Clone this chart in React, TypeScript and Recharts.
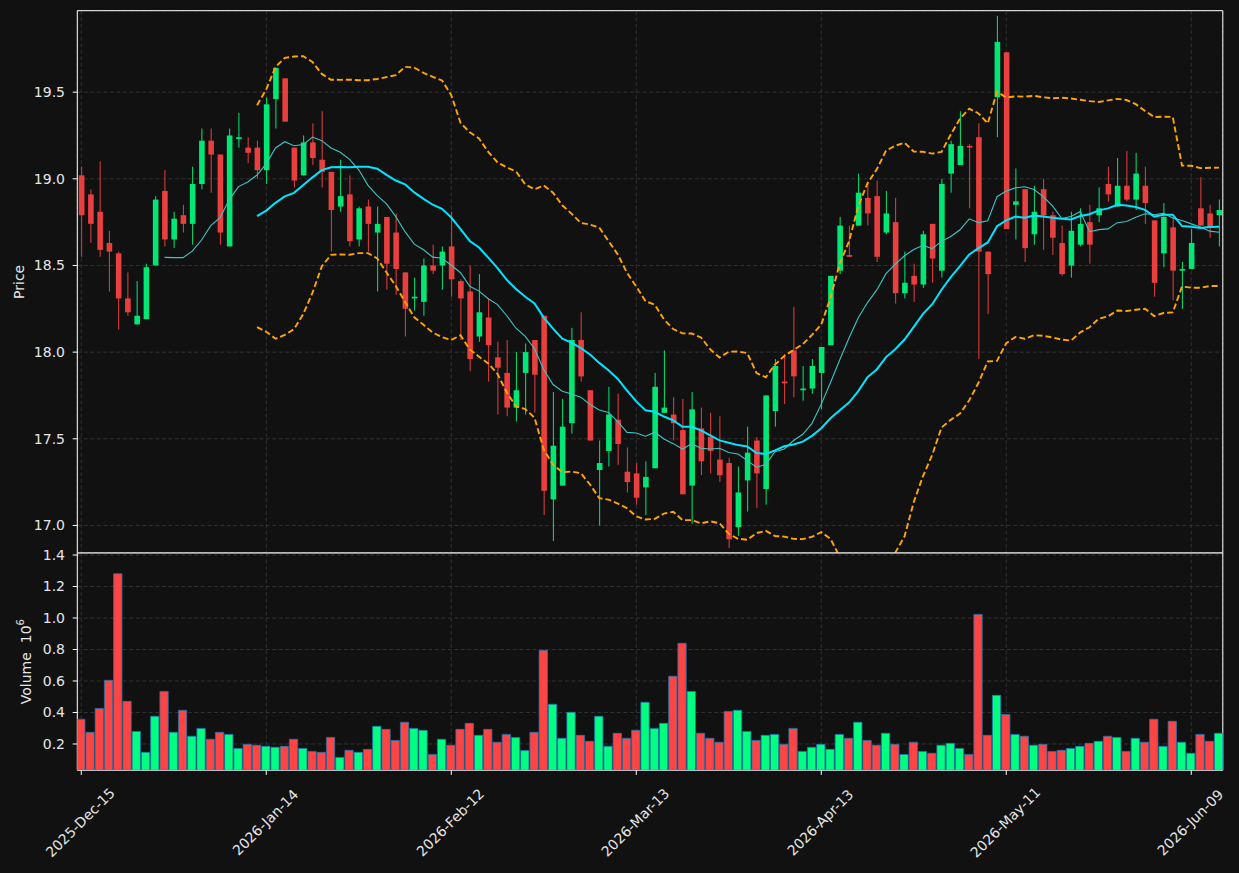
import React from 'react';
import { ComposedChart, Bar, Line, XAxis, YAxis, CartesianGrid, ReferenceArea, Cell } from 'recharts';

const dates = [
  '2025-12-15','2025-12-16','2025-12-17','2025-12-18','2025-12-19','2025-12-22','2025-12-23','2025-12-24','2025-12-26','2025-12-29','2025-12-30','2025-12-31',
  '2026-01-02','2026-01-05','2026-01-06','2026-01-07','2026-01-08','2026-01-09','2026-01-12','2026-01-13','2026-01-14','2026-01-15','2026-01-16','2026-01-20','2026-01-21','2026-01-22','2026-01-23','2026-01-26','2026-01-27','2026-01-28','2026-01-29','2026-01-30',
  '2026-02-02','2026-02-03','2026-02-04','2026-02-05','2026-02-06','2026-02-09','2026-02-10','2026-02-11','2026-02-12','2026-02-13','2026-02-17','2026-02-18','2026-02-19','2026-02-20','2026-02-23','2026-02-24','2026-02-25','2026-02-26','2026-02-27',
  '2026-03-02','2026-03-03','2026-03-04','2026-03-05','2026-03-06','2026-03-09','2026-03-10','2026-03-11','2026-03-12','2026-03-13','2026-03-16','2026-03-17','2026-03-18','2026-03-19','2026-03-20','2026-03-23','2026-03-24','2026-03-25','2026-03-26','2026-03-27','2026-03-30','2026-03-31',
  '2026-04-01','2026-04-02','2026-04-06','2026-04-07','2026-04-08','2026-04-09','2026-04-10','2026-04-13','2026-04-14','2026-04-15','2026-04-16','2026-04-17','2026-04-20','2026-04-21','2026-04-22','2026-04-23','2026-04-24','2026-04-27','2026-04-28','2026-04-29','2026-04-30',
  '2026-05-01','2026-05-04','2026-05-05','2026-05-06','2026-05-07','2026-05-08','2026-05-11','2026-05-12','2026-05-13','2026-05-14','2026-05-15','2026-05-18','2026-05-19','2026-05-20','2026-05-21','2026-05-22','2026-05-26','2026-05-27','2026-05-28','2026-05-29',
  '2026-06-01','2026-06-02','2026-06-03','2026-06-04','2026-06-05','2026-06-08','2026-06-09','2026-06-10','2026-06-11','2026-06-12',
];

const opens = [
  19.02,18.91,18.81,18.63,18.57,18.31,18.16,18.19,18.50,18.93,18.65,18.79,18.74,18.97,19.22,19.14,18.61,19.23,19.18,19.18,
  19.05,19.46,19.58,19.18,19.02,19.21,19.11,19.04,18.84,18.91,18.65,18.84,18.69,18.78,18.69,18.46,18.31,18.29,18.50,18.50,
  18.61,18.41,18.35,18.09,18.20,17.97,17.88,17.68,17.88,18.07,18.21,17.15,17.23,17.59,18.07,17.78,17.32,17.43,17.61,17.31,
  17.30,17.22,17.33,17.65,17.64,17.55,17.23,17.56,17.51,17.38,17.36,16.99,17.26,17.49,17.21,17.66,17.83,18.01,17.78,17.79,
  17.88,18.04,18.47,18.56,18.73,18.89,18.90,18.69,18.75,18.34,18.44,18.39,18.74,18.47,19.03,19.08,19.19,19.24,18.58,19.47,
  19.73,18.85,18.94,18.68,18.94,18.79,18.63,18.50,18.62,18.75,18.79,18.97,18.84,18.96,18.88,18.96,18.76,18.57,18.72,18.47,
  18.48,18.83,18.80,18.79,
];
const highs = [
  19.07,18.94,19.10,18.70,18.58,18.46,18.41,18.51,18.90,19.05,18.81,18.85,19.07,19.29,19.29,19.14,19.29,19.38,19.24,19.22,
  19.47,19.64,19.58,19.18,19.25,19.32,19.39,19.04,19.11,19.02,18.84,18.88,18.84,18.78,18.80,18.46,18.43,18.54,18.62,18.61,
  18.81,18.42,18.50,18.45,18.31,18.06,18.07,18.00,18.05,18.07,18.21,17.77,17.73,18.14,18.23,17.78,17.49,17.80,17.76,17.45,
  17.36,17.37,17.88,18.01,17.74,17.73,17.77,17.68,17.65,17.63,17.39,17.34,17.57,17.51,17.75,17.96,17.99,18.26,17.92,17.96,
  18.03,18.44,18.78,18.73,19.03,18.98,18.99,18.93,18.89,18.58,18.51,18.70,18.74,19.00,19.22,19.39,19.20,19.32,18.58,19.94,
  19.73,19.06,18.94,18.96,19.00,18.81,18.73,18.81,18.83,18.85,18.95,19.07,19.12,19.16,19.15,19.07,18.76,18.86,18.78,18.52,
  18.71,19.01,18.85,18.88,
];
const lows = [
  18.55,18.63,18.55,18.35,18.13,18.21,18.16,18.19,18.50,18.61,18.60,18.69,18.62,18.94,18.92,18.62,18.61,19.18,19.09,19.00,
  18.97,19.29,19.33,18.95,19.02,19.08,18.95,18.58,18.81,18.61,18.61,18.58,18.35,18.36,18.33,18.09,18.24,18.21,18.45,18.36,
  18.32,18.07,17.89,18.06,17.83,17.64,17.63,17.60,17.64,17.65,17.06,16.91,17.23,17.53,17.83,17.49,17.00,17.34,17.35,17.19,
  17.12,17.06,17.33,17.65,17.49,17.18,17.01,17.29,17.30,17.25,16.87,16.94,17.08,17.10,17.12,17.57,17.70,17.74,17.72,17.76,
  17.67,18.04,18.45,18.55,18.73,18.73,18.52,18.68,18.28,18.31,18.29,18.37,18.40,18.43,18.92,19.08,18.83,17.96,18.22,19.24,
  18.71,18.65,18.52,18.62,18.59,18.56,18.44,18.43,18.61,18.51,18.75,18.87,18.84,18.87,18.82,18.74,18.32,18.49,18.30,18.25,
  18.48,18.73,18.66,18.61,
];
const closes = [
  18.79,18.74,18.59,18.58,18.31,18.23,18.21,18.49,18.88,18.65,18.77,18.74,18.97,19.22,19.14,18.69,19.25,19.24,19.15,19.05,
  19.43,19.64,19.33,18.99,19.21,19.12,19.04,18.82,18.90,18.64,18.83,18.74,18.74,18.51,18.48,18.25,18.32,18.50,18.47,18.58,
  18.42,18.31,17.96,18.23,18.04,17.91,17.68,17.78,18.00,17.87,17.20,17.46,17.57,18.07,17.86,17.49,17.36,17.64,17.47,17.25,
  17.16,17.28,17.80,17.68,17.59,17.18,17.67,17.37,17.43,17.29,16.92,17.19,17.42,17.30,17.75,17.92,17.82,17.86,17.79,17.92,
  18.03,18.44,18.73,18.55,18.92,18.80,18.55,18.80,18.34,18.40,18.39,18.68,18.54,18.97,19.20,19.19,19.18,18.58,18.45,19.79,
  18.71,18.87,18.60,18.81,18.79,18.66,18.45,18.70,18.74,18.62,18.83,18.91,18.96,18.88,19.03,18.86,18.40,18.78,18.47,18.48,
  18.63,18.73,18.72,18.82,
];
const volumes = [
  0.357,0.274,0.426,0.604,1.281,0.471,0.280,0.147,0.376,0.534,0.274,0.414,0.249,0.299,0.230,0.274,0.261,0.172,0.198,0.192,
  0.185,0.179,0.185,0.230,0.172,0.153,0.147,0.242,0.115,0.160,0.147,0.166,0.312,0.293,0.223,0.338,0.299,0.287,0.134,0.230,
  0.192,0.293,0.331,0.255,0.293,0.211,0.261,0.242,0.158,0.274,0.795,0.452,0.236,0.401,0.255,0.217,0.376,0.185,0.268,0.236,
  0.287,0.465,0.299,0.331,0.630,0.839,0.534,0.268,0.236,0.211,0.407,0.414,0.280,0.223,0.255,0.261,0.198,0.299,0.153,0.179,
  0.198,0.166,0.261,0.236,0.338,0.223,0.192,0.268,0.198,0.134,0.211,0.153,0.141,0.192,0.204,0.172,0.134,1.023,0.255,0.509,
  0.388,0.261,0.249,0.192,0.198,0.153,0.160,0.172,0.185,0.204,0.217,0.249,0.242,0.153,0.236,0.211,0.357,0.185,0.344,0.211,
  0.141,0.261,0.217,0.268,
];

const tickDates = ['2025-12-15','2026-01-14','2026-02-12','2026-03-13','2026-04-13','2026-05-11','2026-06-09'];
const priceTicks = [17.0, 17.5, 18.0, 18.5, 19.0, 19.5];
const volumeTicks = [0.2, 0.4, 0.6, 0.8, 1.0, 1.2, 1.4];
const MONTHS = ['Jan','Feb','Mar','Apr','May','Jun','Jul','Aug','Sep','Oct','Nov','Dec'];

const CANDLE_UP = '#00e775';
const CANDLE_DOWN = '#e83f3f';
const VOL_UP = '#00ff80';
const VOL_DOWN = '#ff4444';
const BG = '#111111';
const TEXT = '#e6e6e6';
const GRID = '#3a3a3a';
const FONT = 'DejaVu Sans';
const FS = 14;

const X_DOMAIN: [number, number] = [-0.43, 123.41];
const P_DOMAIN: [number, number] = [16.841, 19.97];
const V_DOMAIN: [number, number] = [0.033, 1.4127];

const mean = (a: number[]) => a.reduce((s, v) => s + v, 0) / a.length;

const rows = dates.map((d, i) => {
  const row: any = {
    i, date: d, open: opens[i], high: highs[i], low: lows[i], close: closes[i],
    volume: volumes[i], up: closes[i] >= opens[i],
  };
  if (i >= 9) row.ma10 = mean(closes.slice(i - 9, i + 1));
  if (i >= 19) {
    const w = closes.slice(i - 19, i + 1);
    const m = mean(w);
    const sd = Math.sqrt(mean(w.map((v) => (v - m) * (v - m))));
    row.ma20 = m;
    row.bbUp = m + 2 * sd;
    row.bbLo = m - 2 * sd;
  }
  return row;
});

const tickIdx = tickDates.map((t) => dates.indexOf(t));
const fmtDate = (iso: string) => {
  const [y, m, d] = iso.split('-');
  return `${y}-${MONTHS[Number(m) - 1]}-${d}`;
};

const Candle = (props: any) => {
  const { x, y, width, height, payload } = props;
  if (payload == null) return null;
  const { open, close, high, low } = payload;
  const color = close >= open ? CANDLE_UP : CANDLE_DOWN;
  const top = Math.min(y, y + height);
  const h = Math.abs(height);
  const ppu = h / (high - low || 1);
  const cx = x + width / 2;
  const bt = top + (high - Math.max(open, close)) * ppu;
  const bb = top + (high - Math.min(open, close)) * ppu;
  const bw = 5.6;
  return (
    <g>
      <line x1={cx} x2={cx} y1={top} y2={top + h} stroke={color} strokeWidth={1} />
      <rect x={cx - bw / 2} y={bt} width={bw} height={Math.max(bb - bt, 1)} fill={color} />
    </g>
  );
};

const XTick = (props: any) => {
  const { x, y, payload } = props;
  const label = fmtDate(dates[payload.value]);
  return (
    <g transform={`translate(${x - 1},${y + 45.5}) rotate(-45)`}>
      <text textAnchor="middle" dominantBaseline="central" fill={TEXT} fontSize={FS} fontFamily={FONT}>
        {label}
      </text>
    </g>
  );
};

const YTick = (props: any) => {
  const { x, y, payload } = props;
  return (
    <text x={x} y={y} textAnchor="end" dominantBaseline="central" fill={TEXT} fontSize={FS} fontFamily={FONT}>
      {Number(payload.value).toFixed(1)}
    </text>
  );
};

const PriceLabel = (props: any) => {
  const vb = props.viewBox || { x: 0, y: 0, height: 0 };
  const cx = 19;
  const cy = vb.y + vb.height / 2;
  return (
    <text x={cx} y={cy} transform={`rotate(-90, ${cx}, ${cy})`} textAnchor="middle" dominantBaseline="central" fill={TEXT} fontSize={FS} fontFamily={FONT}>
      Price
    </text>
  );
};

const VolumeLabel = (props: any) => {
  const vb = props.viewBox || { x: 0, y: 0, height: 0 };
  const cx = 26;
  const cy = vb.y + vb.height / 2;
  return (
    <text x={cx} y={cy} transform={`rotate(-90, ${cx}, ${cy})`} textAnchor="middle" dominantBaseline="central" fill={TEXT} fontSize={FS} fontFamily={FONT}>
      <tspan>{'Volume\u00a0\u00a010'}</tspan>
      <tspan dy={-6} fontSize={10}>6</tspan>
    </text>
  );
};

const VTOP = 30;

export default function App() {
  return (
    <div style={{ position: 'absolute', left: 0, top: 0, width: 1239, height: 873, background: BG, overflow: 'hidden' }}>
      <div style={{ position: 'absolute', left: 0, top: 0 }}>
        <ComposedChart width={1239} height={553} data={rows} margin={{ top: 10.7, right: 16.2, bottom: 0, left: 17.3 }}>
          <CartesianGrid stroke={GRID} strokeDasharray="4 2.5" strokeWidth={0.8} />
          <XAxis type="number" dataKey="i" domain={X_DOMAIN} ticks={tickIdx} interval={0} allowDataOverflow hide />
          <YAxis
            type="number"
            domain={P_DOMAIN}
            allowDataOverflow
            ticks={priceTicks}
            interval={0}
            tick={<YTick />}
            tickSize={4.6}
            tickMargin={7.7}
            tickLine={{ stroke: '#ffffff' }}
            axisLine={false}
            width={60}
            label={<PriceLabel />}
          />
          <Bar dataKey={(d: any) => [d.low, d.high]} shape={(p: any) => <Candle {...p} />} barSize={6} isAnimationActive={false} />
          <Line dataKey="bbUp" stroke="#ffa500" strokeWidth={1.9} strokeDasharray="6 3" dot={false} isAnimationActive={false} type="linear" />
          <Line dataKey="bbLo" stroke="#ffa500" strokeWidth={1.9} strokeDasharray="6 3" dot={false} isAnimationActive={false} type="linear" />
          <Line dataKey="ma10" stroke="#40c4c4" strokeWidth={1.1} dot={false} isAnimationActive={false} type="linear" />
          <Line dataKey="ma20" stroke="#00e5ff" strokeWidth={2} dot={false} isAnimationActive={false} type="linear" />
          <ReferenceArea x1={X_DOMAIN[0]} x2={X_DOMAIN[1]} y1={P_DOMAIN[0]} y2={P_DOMAIN[1]} fill="none" stroke="#ffffff" strokeWidth={1} ifOverflow="visible" />
        </ComposedChart>
      </div>
      <div style={{ position: 'absolute', left: 0, top: 553 - VTOP }}>
        <ComposedChart width={1239} height={320 + VTOP} data={rows} margin={{ top: VTOP, right: 16.2, bottom: 42.7, left: 17.3 }}>
          <CartesianGrid stroke={GRID} strokeDasharray="4 2.5" strokeWidth={0.8} />
          <XAxis
            type="number"
            dataKey="i"
            domain={X_DOMAIN}
            allowDataOverflow
            ticks={tickIdx}
            interval={0}
            tickSize={4.6}
            tickMargin={2}
            tickLine={{ stroke: '#ffffff' }}
            axisLine={false}
            tick={<XTick />}
            height={60}
          />
          <YAxis
            type="number"
            domain={V_DOMAIN}
            allowDataOverflow
            ticks={volumeTicks}
            interval={0}
            tick={<YTick />}
            tickSize={4.6}
            tickMargin={7.7}
            tickLine={{ stroke: '#ffffff' }}
            axisLine={false}
            width={60}
            label={<VolumeLabel />}
          />
          <Bar dataKey="volume" barSize={8.3} stroke="#1f77b4" strokeWidth={0.8} isAnimationActive={false}>
            {rows.map((r) => (
              <Cell key={r.i} fill={r.up ? VOL_UP : VOL_DOWN} />
            ))}
          </Bar>
          <ReferenceArea x1={X_DOMAIN[0]} x2={X_DOMAIN[1]} y1={V_DOMAIN[0]} y2={V_DOMAIN[1]} fill="none" stroke="#ffffff" strokeWidth={1} ifOverflow="visible" />
        </ComposedChart>
      </div>
    </div>
  );
}
